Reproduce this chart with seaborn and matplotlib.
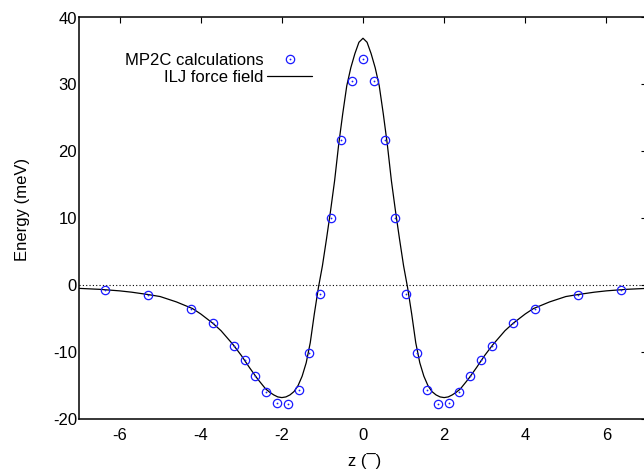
import numpy as np
import pandas as pd
import matplotlib
matplotlib.use("Agg")
import matplotlib.pyplot as plt
import seaborn as sns
from matplotlib.lines import Line2D
from matplotlib.legend_handler import HandlerTuple

# MP2C calculations
z_mp2c = [-6.35, -5.29, -4.24, -3.70, -3.18, -2.91, -2.65, -2.38, -2.12, -1.85,
          -1.58, -1.32, -1.06, -0.80, -0.53, -0.27, 0.00, 0.26, 0.53, 0.80,
          1.05, 1.32, 1.58, 1.84, 2.11, 2.37, 2.64, 2.91, 3.17, 3.70, 4.23, 5.29, 6.35]
e_mp2c = [-0.72, -1.42, -3.56, -5.70, -9.04, -11.2, -13.57, -15.9, -17.56, -17.7,
          -15.6, -10.2, -1.36, 10.0, 21.7, 30.57, 33.86, 30.57, 21.7, 10.0,
          -1.36, -10.2, -15.6, -17.7, -17.56, -15.9, -13.57, -11.2, -9.04, -5.70, -3.56, -1.42, -0.72]

# ILJ force field curve
z_ilj = [-7.0, -6.5, -6.0, -5.7, -5.3, -5.0, -4.6, -4.2, -4.0, -3.7, -3.5, -3.2, -3.0,
         -2.8, -2.6, -2.4, -2.3, -2.2, -2.1, -2.0, -1.9, -1.8, -1.7, -1.6, -1.5, -1.4,
         -1.3, -1.2, -1.1, -1.0, -0.9, -0.8, -0.7, -0.6, -0.5, -0.4, -0.3, -0.2, -0.1,
         0.0,
         0.1, 0.2, 0.3, 0.4, 0.5, 0.6, 0.7, 0.8, 0.9, 1.0, 1.1, 1.2, 1.3, 1.4, 1.5,
         1.6, 1.7, 1.8, 1.9, 2.0, 2.1, 2.2, 2.3, 2.4, 2.6, 2.8, 3.0, 3.2, 3.5, 3.7,
         4.0, 4.2, 4.6, 5.0, 5.3, 5.7, 6.0, 6.5, 7.0]
e_ilj = [-0.48, -0.62, -0.85, -1.05, -1.4, -1.7, -2.5, -3.5, -4.3, -5.7, -6.8, -8.9, -10.5,
         -12.3, -14.0, -15.5, -16.0, -16.4, -16.7, -16.8, -16.7, -16.4, -15.9, -15.0, -13.6, -11.6,
         -8.6, -4.3, -0.4, 2.9, 6.9, 11.1, 15.6, 21.0, 25.6, 29.8, 32.5, 34.6, 36.3,
         36.9,
         36.3, 34.6, 32.5, 29.8, 25.6, 21.0, 15.6, 11.1, 6.9, 2.9, -0.4, -4.3, -8.6, -11.6, -13.6,
         -15.0, -15.9, -16.4, -16.7, -16.8, -16.7, -16.4, -16.0, -15.5, -14.0, -12.3, -10.5, -8.9, -6.8, -5.7,
         -4.3, -3.5, -2.5, -1.7, -1.4, -1.05, -0.85, -0.62, -0.48]

x_ticks = [-6, -4, -2, 0, 2, 4, 6]
y_ticks = [-20, -10, 0, 10, 20, 30, 40]
x_label = "z (¯)"
y_label = "Energy (meV)"
labels = ["MP2C calculations", "ILJ force field"]

sns.set_style("white")
plt.rcParams["font.family"] = ["Liberation Sans", "DejaVu Sans"]
plt.rcParams["axes.unicode_minus"] = False
plt.rcParams["text.color"] = "black"

df_pts = pd.DataFrame({"z": z_mp2c, "E": e_mp2c})
df_cur = pd.DataFrame({"z": z_ilj, "E": e_ilj})

fig = plt.figure(figsize=(6.44, 4.74), dpi=100)
ax = fig.add_axes([79 / 644, 55 / 474, 568 / 644, 401.5 / 474])

ax.axhline(0, color="black", lw=0.8, ls=(0, (1, 2)), zorder=1)
sns.lineplot(data=df_cur, x="z", y="E", ax=ax, color="black", lw=0.9, sort=False,
             estimator=None, zorder=2)
blue = "#1a1aff"
sns.lineplot(data=df_pts, x="z", y="E", ax=ax, linestyle="", marker="o", markersize=6.0,
             markerfacecolor="none", markeredgecolor=blue, markeredgewidth=0.9,
             estimator=None, sort=False, zorder=3)
sns.lineplot(data=df_pts, x="z", y="E", ax=ax, linestyle="", marker="o", markersize=1.3,
             markerfacecolor=blue, markeredgewidth=0, color=blue,
             estimator=None, sort=False, zorder=3)

ax.set_xlim(-7, 7)
ax.set_ylim(-20, 40)
ax.set_xticks(x_ticks)
ax.set_yticks(y_ticks)
ax.set_xticklabels([str(v) for v in x_ticks])
ax.set_yticklabels([str(v) for v in y_ticks])
ax.tick_params(direction="in", length=4.3, width=0.8, color="black", labelsize=12,
               top=True, right=True, labelcolor="black")
ax.tick_params(axis="x", pad=6.3)
ax.tick_params(axis="y", pad=1.5)
for s in ax.spines.values():
    s.set_color("black")
    s.set_linewidth(1.1)

ax.set_xlabel(x_label, fontsize=12, color="black")
ax.set_ylabel(y_label, fontsize=12, color="black")
ax.xaxis.set_label_coords(0.502, -0.084)
ax.yaxis.set_label_coords(-0.087, 0.522)

h_circ = Line2D([], [], linestyle="", marker="o", markersize=6.0, markerfacecolor="none",
                markeredgecolor=blue, markeredgewidth=0.9)
h_dot = Line2D([], [], linestyle="", marker="o", markersize=1.3, markerfacecolor=blue,
               markeredgewidth=0)
h_line = Line2D([], [], color="black", lw=0.9)
leg = ax.legend(handles=[(h_circ, h_dot), h_line], labels=labels, markerfirst=False,
                frameon=False, fontsize=12, handlelength=2.7, handletextpad=0.2,
                labelspacing=0.12, loc="center", bbox_to_anchor=(0.246, 0.8717),
                borderpad=0, labelcolor="black",
                handler_map={tuple: HandlerTuple(ndivide=1)})

fig.savefig("out.png", dpi=100)
